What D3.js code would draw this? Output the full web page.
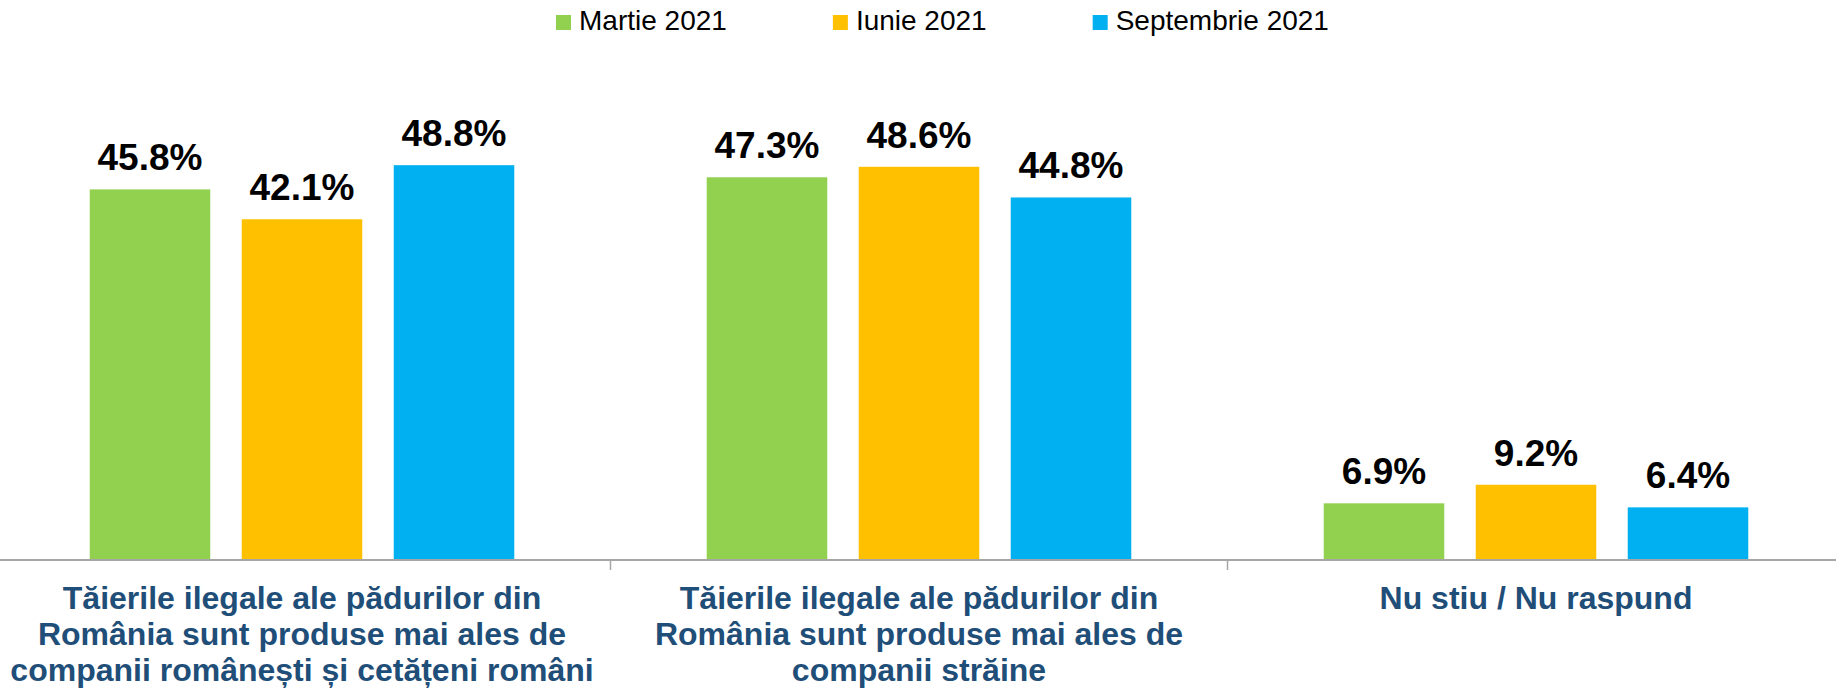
<!DOCTYPE html>
<html>
<head>
<meta charset="utf-8">
<script src="https://cdn.jsdelivr.net/npm/d3@7"></script>
<style>
  html, body { margin: 0; padding: 0; background: #ffffff; }
  svg { display: block; font-family: "Liberation Sans", Arial, sans-serif; }
</style>
</head>
<body>
<svg id="chart" width="1836" height="689"></svg>
<script>
// ---- data ----
const categories = ["cat1", "cat2", "cat3"];
const categoryLabels = [
  ["Tăierile ilegale ale pădurilor din", "România sunt produse mai ales de", "companii românești și cetățeni români"],
  ["Tăierile ilegale ale pădurilor din", "România sunt produse mai ales de", "companii străine"],
  ["Nu stiu / Nu raspund"]
];
const seriesNames = ["Martie 2021", "Iunie 2021", "Septembrie 2021"];
const seriesColors = ["#92D050", "#FFC000", "#00B0F0"];
const martie = [45.8, 47.3, 6.9];
const iunie = [42.1, 48.6, 9.2];
const septembrie = [48.8, 44.8, 6.4];
const seriesValues = [martie, iunie, septembrie];

// ---- layout ----
const svg = d3.select("#chart");
const baseY = 559;
const y = d3.scaleLinear().domain([0, 60]).range([baseY, baseY - 60 * 8.07]);
const x0 = d3.scaleBand().domain(categories).range([-6.5, 1844.5]).paddingInner(0).paddingOuter(0);
const x1 = d3.scaleBand().domain(seriesNames).range([0, x0.bandwidth()]).paddingInner(0.207).paddingOuter(0.633);

// bars
const groups = svg.append("g").selectAll("g")
  .data(categories)
  .join("g")
  .attr("transform", d => `translate(${x0(d)},0)`);

groups.each(function(cat, ci) {
  const g = d3.select(this);
  seriesNames.forEach((s, si) => {
    const v = seriesValues[si][ci];
    g.append("rect")
      .attr("x", x1(s))
      .attr("y", y(v))
      .attr("width", x1.bandwidth())
      .attr("height", baseY - y(v))
      .attr("fill", seriesColors[si]);
    g.append("text")
      .attr("x", x1(s) + x1.bandwidth() / 2)
      .attr("y", y(v) - 19)
      .attr("text-anchor", "middle")
      .attr("font-size", 37)
      .attr("font-weight", "bold")
      .attr("fill", "#000000")
      .text(v.toFixed(1) + "%");
  });
});

// axis line
svg.append("line")
  .attr("x1", 0).attr("x2", 1836)
  .attr("y1", baseY + 1).attr("y2", baseY + 1)
  .attr("stroke", "#A6A6A6").attr("stroke-width", 2);

// ticks at band boundaries
const boundaries = categories.slice(1).map(c => x0(c));
svg.append("g").selectAll("line")
  .data(boundaries)
  .join("line")
  .attr("x1", d => d).attr("x2", d => d)
  .attr("y1", baseY + 1).attr("y2", baseY + 11)
  .attr("stroke", "#A6A6A6").attr("stroke-width", 1.5);

// category labels
categories.forEach((c, ci) => {
  const t = svg.append("text")
    .attr("text-anchor", "middle")
    .attr("font-size", 32)
    .attr("font-weight", "bold")
    .attr("fill", "#1F4E79");
  categoryLabels[ci].forEach((line, li) => {
    t.append("tspan")
      .attr("x", x0(c) + x0.bandwidth() / 2)
      .attr("y", 609 + li * 36)
      .text(line);
  });
});

// legend
const legend = svg.append("g");
let lx = 556;
seriesNames.forEach((s, si) => {
  legend.append("rect")
    .attr("x", lx).attr("y", 15)
    .attr("width", 15).attr("height", 15)
    .attr("fill", seriesColors[si]);
  const t = legend.append("text")
    .attr("x", lx + 23).attr("y", 30)
    .attr("font-size", 28)
    .attr("fill", "#000000")
    .text(s);
  const w = t.node().getComputedTextLength();
  lx = lx + 23 + w + 106;
});
</script>
</body>
</html>
